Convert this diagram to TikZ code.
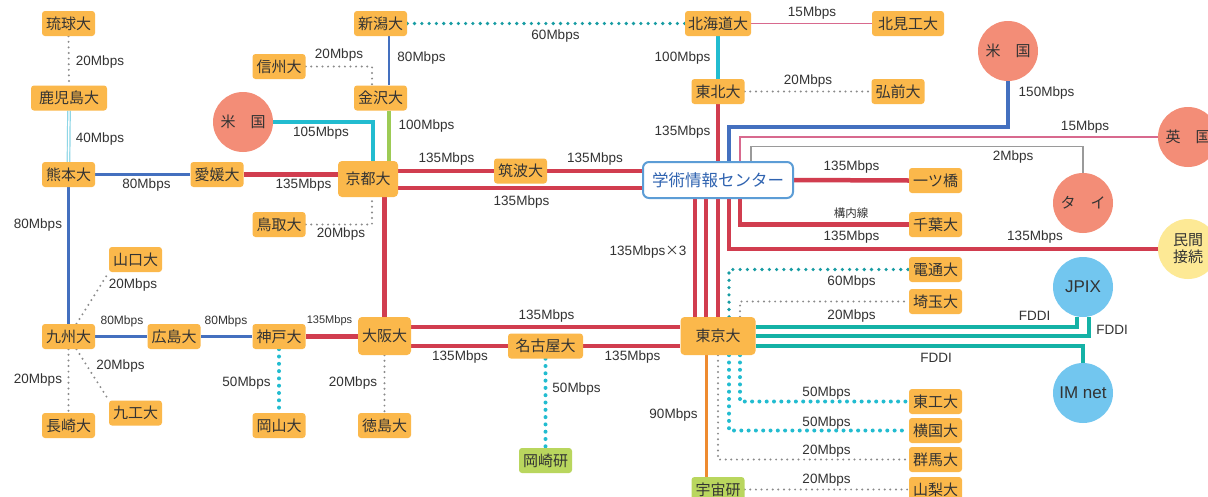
\documentclass[tikz,border=0pt]{standalone}
\usepackage{fontspec}
\setmainfont{Noto Sans CJK JP}
\newfontfamily\latf{Liberation Sans}
\usetikzlibrary{backgrounds}
\definecolor{boxor}{HTML}{FBB84B}
\definecolor{boxgr}{HTML}{B9D65E}
\definecolor{salm}{HTML}{F38D77}
\definecolor{skyc}{HTML}{72C6EF}
\definecolor{yelc}{HTML}{FDE995}
\definecolor{redl}{HTML}{D13D4F}
\definecolor{bluel}{HTML}{4470BF}
\definecolor{cyanl}{HTML}{22BCD0}
\definecolor{teald}{HTML}{179CA3}
\definecolor{tealf}{HTML}{14B2A6}
\definecolor{greenl}{HTML}{9DCB55}
\definecolor{orgl}{HTML}{EE8B30}
\definecolor{pinkl}{HTML}{D8698E}
\definecolor{grayd}{HTML}{8A8A8A}
\definecolor{grayl}{HTML}{9A9A9A}
\definecolor{lbll}{HTML}{8ED6E6}
\definecolor{txtc}{HTML}{333333}
\definecolor{cenb}{HTML}{5C9DD6}
\definecolor{cent}{HTML}{2F63B0}
\begin{document}
\begin{tikzpicture}[x=1pt,y=-1pt,
 box/.style={fill=boxor, rounded corners=3pt, inner sep=0pt, minimum height=25pt, minimum width=53pt, text=txtc, font=\fontsize{15}{16}\selectfont},
 gbox/.style={box, fill=boxgr},
 circ/.style={circle, inner sep=0pt, minimum size=60pt, text=txtc, font=\fontsize{15}{17}\selectfont, align=center},
 lbl/.style={inner sep=0pt, text=txtc, font=\latf\fontsize{13.5}{14}\selectfont},
 slbl/.style={lbl, font=\latf\fontsize{12}{13}\selectfont},
 rd/.style={draw=redl, line width=4.5pt},
 bln/.style={draw=bluel, line width=2.5pt},
 blk/.style={draw=bluel, line width=4.5pt},
 cyk/.style={draw=cyanl, line width=4.5pt},
 grk/.style={draw=greenl, line width=4pt},
 org/.style={draw=orgl, line width=3pt},
 gdot/.style={draw=grayd, line width=2.2pt, line cap=round, dash pattern=on 0pt off 5.6pt},
 cdot/.style={draw=cyanl, line width=4pt, line cap=round, dash pattern=on 0pt off 7.3pt},
 tdot/.style={draw=teald, line width=3.6pt, line cap=round, dash pattern=on 0pt off 7.3pt},
 fddi/.style={draw=tealf, line width=4.5pt},
 thinp/.style={draw=pinkl, line width=1.5pt},
 thing/.style={draw=grayl, line width=1.2pt},
 dbl/.style={draw=lbll, line width=1.2pt, double=white, double distance=1.3pt},
]
\useasboundingbox (0,0) rectangle (1208,496);
% nodes
\node[box] (ryu) at (68.5,23.5) {琉球大};
\node[box, minimum width=76pt] (kag) at (69,98) {鹿児島大};
\node[box] (kum) at (68.5,174.5) {熊本大};
\node[box] (ehi) at (217,174.5) {愛媛大};
\node[box, minimum width=60pt, minimum height=36pt, rounded corners=4pt] (kyo) at (368,179) {京都大};
\node[box] (shin) at (279,66.5) {信州大};
\node[box] (kan) at (380.5,98) {金沢大};
\node[box] (nii) at (380.5,23.5) {新潟大};
\node[box] (tot) at (279,224.5) {鳥取大};
\node[circ, fill=salm] (usL) at (243,122) {米　国};
\node[box] (yam) at (135.5,259.5) {山口大};
\node[box] (kyu) at (68.5,336.5) {九州大};
\node[box] (hir) at (174,336.5) {広島大};
\node[box] (kob) at (279,336.5) {神戸大};
\node[box, minimum height=38pt, rounded corners=4pt] (osa) at (384.5,336) {大阪大};
\node[box] (nag) at (68.5,425.5) {長崎大};
\node[box] (kit) at (135.5,413) {九工大};
\node[box] (oka) at (279,425.5) {岡山大};
\node[box] (tok) at (384.5,425.5) {徳島大};
\node[box, minimum width=66pt] (hok) at (718,23.5) {北海道大};
\node[box] (toh) at (718,91.5) {東北大};
\node[box] (tsu) at (520.5,171) {筑波大};
\node[draw=cenb, line width=2pt, fill=white, rounded corners=6pt, minimum width=150pt, minimum height=36pt, inner sep=0pt, text=cent, font=\fontsize{16.5}{17}\selectfont] (cen) at (718,180) {学術情報センター};
\node[box, minimum width=75pt] (nago) at (545.5,346) {名古屋大};
\node[box, minimum width=75pt, minimum height=38pt, rounded corners=4pt] (tku) at (718,336) {東京大};
\node[gbox] (okz) at (545.5,460.5) {岡崎研};
\node[gbox] (uch) at (718,489.5) {宇宙研};
\node[box, minimum width=72pt] (kitami) at (908,23.5) {北見工大};
\node[box] (hiro) at (898,91.5) {弘前大};
\node[circ, fill=salm] (usR) at (1008,51) {米　国};
\node[circ, fill=salm] (uk) at (1188,137) {英　国};
\node[circ, fill=salm] (thai) at (1083,203) {タ　イ};
\node[box] (hit) at (935.5,180.5) {一ツ橋};
\node[box] (chi) at (935.5,224.5) {千葉大};
\node[circ, fill=yelc] (min) at (1188,249) {民間\\接続};
\node[box] (den) at (935.5,269.5) {電通大};
\node[box] (sai) at (935.5,301.5) {埼玉大};
\node[circ, fill=skyc, font=\latf\fontsize{17}{18}\selectfont] (jpix) at (1083,287) {JPIX};
\node[circ, fill=skyc, font=\latf\fontsize{17}{18}\selectfont] (imn) at (1083,393) {IM net};
\node[box] (tkk) at (935.5,401.5) {東工大};
\node[box] (yok) at (935.5,430.5) {横国大};
\node[box] (gun) at (935.5,459.5) {群馬大};
\node[box] (yml) at (935.5,489.5) {山梨大};
% labels
\node[lbl] (l01) at (100,62) {20Mbps};
\node[lbl] (l02) at (100,139.5) {40Mbps};
\node[lbl] (l03) at (146.5,185.5) {80Mbps};
\node[lbl] (l04) at (303.5,185.5) {135Mbps};
\node[lbl] (l05) at (38,225) {80Mbps};
\node[lbl] (l06) at (339,55.5) {20Mbps};
\node[lbl] (l07) at (321,133.5) {105Mbps};
\node[lbl] (l08) at (341,234.5) {20Mbps};
\node[lbl] (l09) at (421.5,58.5) {80Mbps};
\node[lbl] (l10) at (426.5,126) {100Mbps};
\node[lbl] (l11) at (446.5,159) {135Mbps};
\node[lbl] (l12) at (595,159) {135Mbps};
\node[lbl] (l13) at (521.5,202) {135Mbps};
\node[lbl] (l14) at (555.5,36) {60Mbps};
\node[lbl] (l15) at (682.5,58) {100Mbps};
\node[lbl] (l16) at (682.5,132.5) {135Mbps};
\node[lbl] (l17) at (812,13.5) {15Mbps};
\node[lbl] (l18) at (808,81) {20Mbps};
\node[lbl] (l19) at (1046.5,93.5) {150Mbps};
\node[lbl] (l20) at (1085,127.5) {15Mbps};
\node[lbl] (l21) at (1013,157.5) {2Mbps};
\node[lbl] (l22) at (851.5,167) {135Mbps};
\node[lbl, font=\fontsize{11.5}{12}\selectfont] (l23) at (851,213) {構内線};
\node[lbl] (l24) at (851.5,237) {135Mbps};
\node[lbl] (l25) at (1035,237) {135Mbps};
\node[lbl] (l26) at (648,252) {135Mbps{\rmfamily ×}3};
\node[lbl] (l27) at (546.5,316) {135Mbps};
\node[lbl] (l28) at (460,357) {135Mbps};
\node[lbl] (l29) at (632.5,357) {135Mbps};
\node[lbl] (l30) at (576.5,389) {50Mbps};
\node[lbl] (l31) at (673.5,415) {90Mbps};
\node[lbl] (l32) at (133,285) {20Mbps};
\node[slbl] (l33) at (122,321) {80Mbps};
\node[slbl] (l34) at (226,321) {80Mbps};
\node[slbl, font=\latf\fontsize{11}{12}\selectfont] (l35) at (329.5,321) {135Mbps};
\node[lbl] (l36) at (120.5,366) {20Mbps};
\node[lbl] (l37) at (38,380) {20Mbps};
\node[lbl] (l38) at (246.5,383) {50Mbps};
\node[lbl] (l39) at (353,383) {20Mbps};
\node[lbl] (l40) at (851.5,282) {60Mbps};
\node[lbl] (l41) at (851.5,316) {20Mbps};
\node[lbl] (l42) at (1034.5,316) {FDDI};
\node[lbl] (l43) at (1112,330) {FDDI};
\node[lbl] (l44) at (936,358) {FDDI};
\node[lbl] (l45) at (826.5,393) {50Mbps};
\node[lbl] (l46) at (826.5,423) {50Mbps};
\node[lbl] (l47) at (826.5,451) {20Mbps};
\node[lbl] (l48) at (826.5,480) {20Mbps};
% connectors
\begin{pgfonlayer}{background}
\fill[white] (0,0) rectangle (1208,496);
\draw[gdot] (ryu.south) -- (kag.north);
\draw[dbl] (kag.south) -- (kum.north);
\draw[bln] (kum.east) -- (ehi.west);
\draw[rd] (ehi.east) -- (kyo.west |- ehi);
\draw[bln] (kum.south) -- (kyu.north);
\draw[gdot] ([xshift=8pt]kyu.north) -- (yam.south west);
\draw[bln] (kyu.east) -- (hir.west);
\draw[bln] (hir.east) -- (kob.west);
\draw[rd] (kob.east) -- (osa.west |- kob);
\draw[gdot] (kyu.south) -- (nag.north);
\draw[gdot] ([xshift=8pt]kyu.south) -- (kit.north west);
\draw[cdot] (kob.south) -- (oka.north);
\draw[gdot] (osa.south) -- (tok.north);
\draw[rd] ([xshift=16.5pt]kyo.south) -- (osa.north);
\draw[gdot] (shin.east) -| ([xshift=-8.5pt]kan.north);
\draw[bln] ([xshift=8.5pt]nii.south) -- ([xshift=8.5pt]kan.north);
\draw[grk] ([xshift=8.5pt]kan.south) -- ([xshift=21pt]kyo.north);
\draw[cyk] (usL.east) -| ([xshift=5pt]kyo.north);
\draw[gdot] (tot.east) -| ([xshift=4pt]kyo.south);
\draw[rd] (kyo.east |- tsu) -- (tsu.west);
\draw[rd] (tsu.east) -- (cen.west |- tsu);
\draw[rd] ([yshift=-9pt]kyo.east) -- ([yshift=-8pt]cen.west);
\draw[tdot] (nii.east) -- (hok.west);
\draw[thinp] (hok.east) -- (kitami.west);
\draw[cyk] (hok.south) -- (toh.north);
\draw[gdot] (toh.east) -- (hiro.west);
\draw[rd] (toh.south) -- (cen.north);
\draw[rd] ([xshift=-23pt]cen.south) -- ([xshift=-23pt]tku.north);
\draw[rd] ([xshift=-12pt]cen.south) -- ([xshift=-12pt]tku.north);
\draw[rd] (cen.south) -- (tku.north);
\draw[rd] (cen.east) -- (hit.west);
\draw[rd] ([xshift=22pt]cen.south) |- (chi.west);
\draw[rd] ([xshift=11pt]cen.south) |- (min.west);
\draw[blk] ([xshift=11pt]cen.north) |- ([yshift=-46pt]usR.south) -- (usR.south);
\draw[thinp] ([xshift=22pt]cen.north) |- (uk.west);
\draw[thing] ([xshift=33pt]cen.north) |- ([yshift=26pt]thai.north) -- (thai.north);
\draw[rd] ([yshift=9pt]osa.east) -- ([yshift=9pt]tku.west);
\draw[rd] (osa.east |- nago) -- (nago.west);
\draw[rd] (nago.east) -- (tku.west |- nago);
\draw[cdot] (nago.south) -- (okz.north);
\draw[org] ([xshift=-12pt]tku.south) -- ([xshift=-12pt]uch.north);
\draw[tdot] ([xshift=11pt]tku.north) |- (den.west);
\draw[gdot] ([xshift=22pt]tku.north) |- (sai.west);
\draw[fddi] ([yshift=9pt]tku.east) -| ([xshift=-6pt]jpix.south);
\draw[fddi] (tku.east) -| ([xshift=6pt]jpix.south);
\draw[fddi] ([yshift=-10pt]tku.east) -| (imn.north);
\draw[cdot] ([xshift=22pt]tku.south) |- (tkk.west);
\draw[cdot] ([xshift=11pt]tku.south) |- (yok.west);
\draw[gdot] (tku.south) |- (gun.west);
\draw[gdot] (uch.east) -- (yml.west);
\end{pgfonlayer}
\end{tikzpicture}
\end{document}
